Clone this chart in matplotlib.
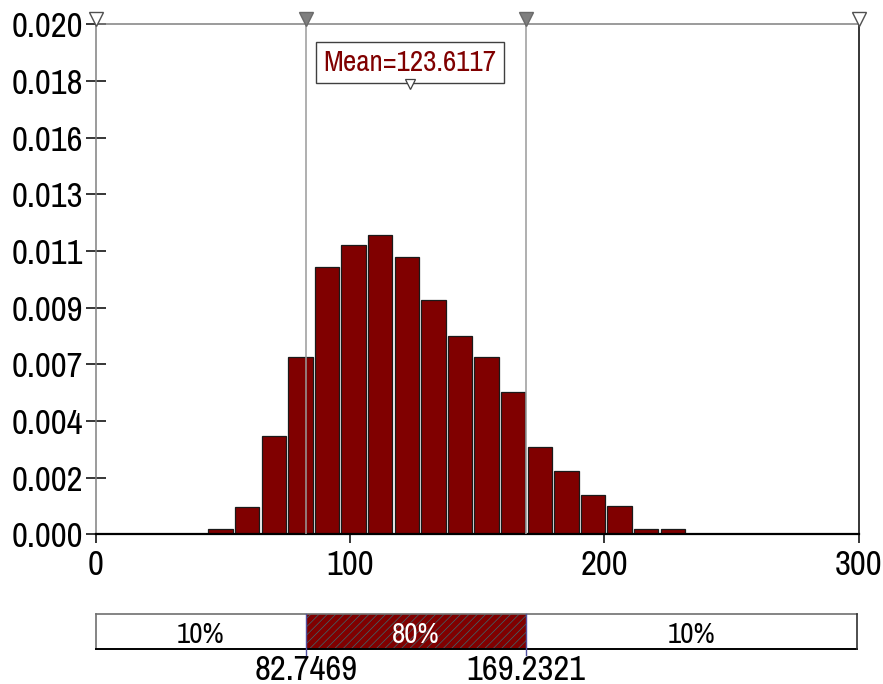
import numpy as np
import matplotlib
matplotlib.use("Agg")
import matplotlib.pyplot as plt
from matplotlib import font_manager
from matplotlib.transforms import offset_copy
from matplotlib.patches import Rectangle

# ---- data ---------------------------------------------------------------
bin_lo = 44.3          # left edge of the first histogram bin
bin_width = 10.46      # width of each bin
density = [0.00021, 0.00106, 0.00387, 0.00697, 0.01047, 0.01135, 0.01175,
           0.01089, 0.00919, 0.00779, 0.00694, 0.00557, 0.00341, 0.00247,
           0.00153, 0.00112, 0.00021, 0.00021]
mean_value = 123.6117
p_low = 82.7469
p_high = 169.2321
band_pcts = ["10%", "80%", "10%"]
x_ticks = [0, 100, 200, 300]
y_max = 0.020
n_y_ticks = 10

# ---- style --------------------------------------------------------------
names = {f.name for f in font_manager.fontManager.ttflist}
narrow = next((n for n in ("Archivo Narrow", "Roboto Condensed", "PT Sans Narrow")
               if n in names), "Liberation Sans")
plt.rcParams["font.family"] = [narrow, "DejaVu Sans"]
plt.rcParams["hatch.linewidth"] = 0.5

W, H = 883, 684
DPI = 100
fig = plt.figure(figsize=(W / DPI, H / DPI), dpi=DPI)
PT = 72.0 / DPI  # points per pixel

def px_box(x0, y0, x1, y1):
    return [x0 / W, 1 - y1 / H, (x1 - x0) / W, (y1 - y0) / H]

maroon = "#800000"
TICK_FS = 25

# ---- main histogram -----------------------------------------------------
ax = fig.add_axes(px_box(95.7, 24.3, 858.6, 534.3))
edges = bin_lo + bin_width * np.arange(len(density))
ax.bar(edges, density, width=bin_width * 0.92, align="edge",
       color=maroon, edgecolor="#1a1a1a", linewidth=0.9, zorder=2)

ax.set_xlim(0, 300)
ax.set_ylim(0, y_max)
yt = np.linspace(0, y_max, n_y_ticks)
ax.set_yticks(yt)
ax.set_yticklabels([f"{v:.3f}" for v in yt])
ax.set_xticks(x_ticks)
ax.set_xticklabels([str(v) for v in x_ticks])
ax.tick_params(axis="y", direction="inout", length=20 * PT, width=1.1,
               pad=3 * PT, labelsize=TICK_FS, colors="black")
ax.tick_params(axis="x", direction="out", length=9 * PT, width=1.1,
               pad=4, labelsize=TICK_FS)

for side, col in (("top", "#808080"), ("left", "#808080"),
                  ("right", "black"), ("bottom", "black")):
    ax.spines[side].set_color(col)
    ax.spines[side].set_linewidth(1.1)
ax.spines["bottom"].set_linewidth(1.6)

# percentile delimiters
for xv in (p_low, p_high):
    ax.axvline(xv, color="#9a9a9a", linewidth=1.1, zorder=3)

# markers along the top edge
top_tr = offset_copy(ax.transData, fig=fig, x=0, y=5, units="dots")
ax.plot([p_low, p_high], [y_max, y_max], linestyle="none", marker="v",
        markersize=9.5, markerfacecolor="#7f7f7f", markeredgecolor="#6a6a6a",
        transform=top_tr, clip_on=False, zorder=5)
ax.plot([0, 300], [y_max, y_max], linestyle="none", marker="v",
        markersize=9.5, markerfacecolor="white", markeredgecolor="#505050",
        markeredgewidth=1.0, transform=top_tr, clip_on=False, zorder=5)

# mean label
ax.text(mean_value, 0.01850, f"Mean={mean_value:.4f}", color=maroon,
        fontsize=21, ha="center", va="center", zorder=6,
        bbox=dict(boxstyle="square,pad=0.25", facecolor="white",
                  edgecolor="#404040", linewidth=1.0))
ax.plot([mean_value], [0.01765], linestyle="none", marker="v",
        markersize=7.5, markerfacecolor="white", markeredgecolor="#404040",
        markeredgewidth=0.9, zorder=7)

# ---- percentile band ----------------------------------------------------
bx = fig.add_axes(px_box(95.7, 613.7, 858.6, 649.3))
bx.set_xlim(0, 300)
bx.set_ylim(0, 1)
bx.axis("off")
band_end = 299.3
segments = [(0, p_low), (p_low, p_high), (p_high, band_end)]
for (a, b), lab in zip(segments, band_pcts):
    centre = lab == "80%"
    bx.add_patch(Rectangle((a, 0), b - a, 1,
                           facecolor=maroon if centre else "white",
                           edgecolor="#3a6a70" if centre else "none",
                           hatch="////" if centre else None,
                           linewidth=0, zorder=1))
    bx.text((a + b) / 2, 0.42, lab, ha="center", va="center", fontsize=21,
            color="white" if centre else "black", zorder=3)
# band frame: light top/left, dark bottom/right
bx.plot([0, band_end], [1, 1], color="#707070", lw=1.2, clip_on=False, zorder=4)
bx.plot([0, 0], [0, 1], color="#707070", lw=1.2, clip_on=False, zorder=4)
bx.plot([0, band_end], [0, 0], color="black", lw=1.4, clip_on=False, zorder=4)
bx.plot([band_end, band_end], [0, 1], color="#303030", lw=1.2, clip_on=False, zorder=4)
for xv in (p_low, p_high):
    bx.plot([xv, xv], [-0.15, 1], color="#5050a0", lw=1.0, clip_on=False, zorder=4)
    bx.text(xv, -0.12, f"{xv:.4f}", ha="center", va="top", fontsize=TICK_FS,
            color="black", clip_on=False)

fig.savefig("out.png", dpi=DPI, facecolor="white")
